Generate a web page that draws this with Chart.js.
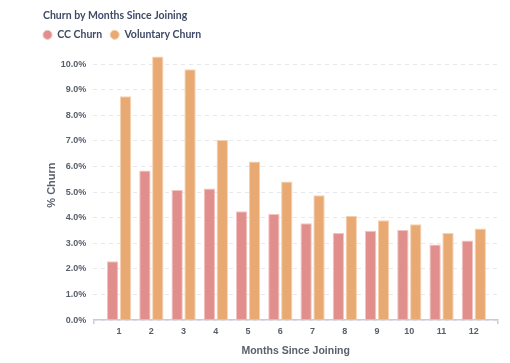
<!DOCTYPE html>
<html>
<head>
<meta charset="utf-8">
<script src="https://cdn.jsdelivr.net/npm/chart.js@4/dist/chart.umd.min.js"></script>
<style>
  html, body { margin: 0; padding: 0; background: #fff; }
  #wrap { width: 510px; height: 363px; }
</style>
</head>
<body>
<div id="wrap"><canvas id="myChart" width="510" height="363"></canvas></div>
<script>
// datos
const months = [1, 2, 3, 4, 5, 6, 7, 8, 9, 10, 11, 12]
const ccChurn = [2.30, 5.85, 5.08, 5.14, 4.25, 4.15, 3.78, 3.40, 3.49, 3.52, 2.95, 3.11]
const voluntaryChurn = [8.75, 10.30, 9.80, 7.04, 6.20, 5.42, 4.88, 4.08, 3.90, 3.75, 3.40, 3.58]
const yTicks = [0, 1, 2, 3, 4, 5, 6, 7, 8, 9, 10]

const xMin = 0.2
const xMax = 12.75
const textColor = '#3f4a66'
const tickColor = '#595e6a'

const toPoints = (vals) => months.map((m, i) => ({ x: m, y: vals[i] }))

// el titulo va un poco mas a la derecha que la leyenda
const titleShift = {
  id: 'titleShift',
  afterLayout(chart) {
    if (chart.titleBlock) chart.titleBlock.left += 8
  },
}

// la regla de barras cuenta el tramo minimo entre ticks (0.75), se compensa aqui
const catPct = 0.8 / (xMax - 12)

const ctx = document.getElementById('myChart').getContext('2d')
const myChart = new Chart(ctx, {
  type: 'bar',
  data: {
    datasets: [
      {
        label: 'CC Churn',
        data: toPoints(ccChurn),
        backgroundColor: '#e18f8c',
        borderColor: '#f2c4c2',
        borderWidth: 1,
        categoryPercentage: catPct,
        barPercentage: 0.88,
      },
      {
        label: 'Voluntary Churn',
        data: toPoints(voluntaryChurn),
        backgroundColor: '#e8a972',
        borderColor: '#f5d2b0',
        borderWidth: 1,
        categoryPercentage: catPct,
        barPercentage: 0.88,
      },
    ],
  },
  plugins: [titleShift],
  options: {
    responsive: false,
    animation: false,
    layout: { padding: { left: 35, right: 12, top: 5, bottom: 5.5 } },
    plugins: {
      title: {
        display: true,
        text: 'Churn by Months Since Joining',
        align: 'start',
        color: textColor,
        font: { family: 'Lato', size: 10.5, weight: 'bold' },
        padding: { top: 4, bottom: 0 },
      },
      legend: {
        align: 'start',
        labels: {
          usePointStyle: true,
          pointStyle: 'circle',
          boxWidth: 9,
          boxHeight: 6.4,
          padding: 8,
          color: textColor,
          font: { family: 'Lato', size: 10.5, weight: 'bold' },
        },
      },
      tooltip: { enabled: false },
    },
    scales: {
      x: {
        type: 'linear',
        offset: false,
        min: xMin,
        max: xMax,
        afterBuildTicks: (axis) => {
          axis.ticks = [xMin].concat(months, [xMax]).map((v) => ({ value: v }))
        },
        ticks: {
          autoSkip: false,
          maxRotation: 0,
          color: tickColor,
          padding: 2,
          font: { family: 'Liberation Sans', size: 9, weight: 'bold' },
          callback: (v) => (months.includes(v) ? String(v) : ''),
        },
        grid: {
          offset: false,
          drawOnChartArea: false,
          tickLength: 4,
          color: (c) => (c.tick && months.includes(c.tick.value) ? 'rgba(0,0,0,0)' : '#c9ccd6'),
          lineWidth: 1.5,
        },
        border: { display: true, color: '#c9ccd6', width: 1.5 },
        title: {
          display: true,
          text: 'Months Since Joining',
          color: '#5b606c',
          font: { family: 'Liberation Sans', size: 10.5, weight: 'bold' },
          padding: { top: 6, bottom: 0 },
        },
      },
      y: {
        min: 0,
        max: 10.55,
        afterBuildTicks: (axis) => {
          axis.ticks = yTicks.map((v) => ({ value: v }))
        },
        afterFit: (axis) => {
          axis.width = 58.3
        },
        ticks: {
          color: tickColor,
          padding: 7,
          font: { family: 'Liberation Sans', size: 9, weight: 'bold' },
          callback: (v) => v.toFixed(1) + '%',
        },
        grid: {
          drawTicks: false,
          color: '#e6e8ee',
        },
        border: { display: false, dash: [4, 4] },
        title: {
          display: true,
          text: '% Churn',
          color: '#5b606c',
          font: { family: 'Liberation Sans', size: 11, weight: 'bold' },
          padding: { top: 10, bottom: 3 },
        },
      },
    },
  },
})
</script>
</body>
</html>
